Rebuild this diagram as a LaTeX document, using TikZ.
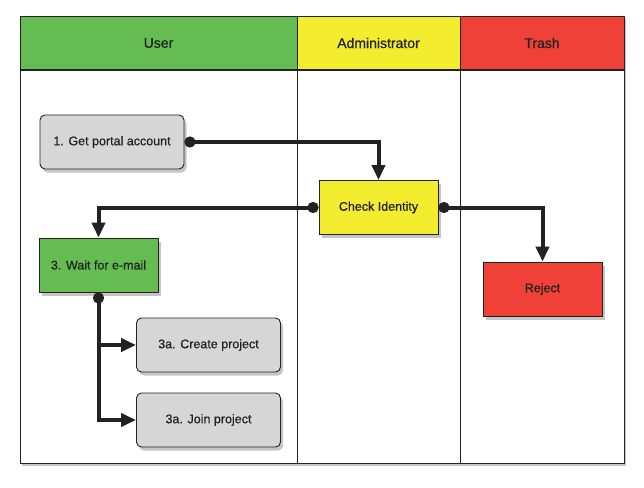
\documentclass[tikz,border=0pt]{standalone}
\usepackage{fontspec}
\setmainfont{Liberation Sans}
\newfontfamily\heavyfont[FakeBold=0.7]{Liberation Sans}
\usetikzlibrary{arrows.meta,shadows}
\definecolor{lgreen}{HTML}{64BC53}
\definecolor{lyellow}{HTML}{F3EC2F}
\definecolor{lred}{HTML}{EF4137}
\definecolor{lgray}{HTML}{D6D6D6}
\definecolor{ink}{HTML}{222222}
\tikzset{
  box/.style={draw=ink, line width=0.9pt, minimum width=119pt, minimum height=54pt, inner sep=0pt,
    font=\heavyfont\fontsize{12.5}{14}\selectfont, text=ink,
    drop shadow={shadow xshift=2.5pt, shadow yshift=-3.5pt, opacity=0.45}},
  graybox/.style={box, fill=lgray, rounded corners=5pt, minimum width=144pt},
  conn/.style={draw=ink, line width=4pt, {Circle[length=11pt]}-{Triangle[length=15pt,width=13pt]}},
  arr/.style={draw=ink, line width=4pt, -{Triangle[length=15pt,width=13pt]}},
  hdr/.style={font=\heavyfont\fontsize{14}{16}\selectfont, text=ink},
}
\begin{document}
\begin{tikzpicture}[x=1pt,y=-1pt]
\useasboundingbox (0,0) rectangle (644,487);
% frame
\fill[white, drop shadow={shadow xshift=2pt, shadow yshift=-3pt, opacity=0.45}] (20,16) rectangle (624,463);
\fill[lgreen] (20,16) rectangle (297,70);
\fill[lyellow] (297,16) rectangle (460,70);
\fill[lred] (460,16) rectangle (624,70);
\draw[ink, line width=0.8pt] (297,16) -- (297,463);
\draw[ink, line width=0.8pt] (460,16) -- (460,463);
\draw[ink, line width=2pt] (20,70) -- (624,70);
\draw[ink, line width=0.9pt] (20,16) rectangle (624,463);
\node[hdr] (hu) at (158.5,43) {User};
\node[hdr] (ha) at (378.5,43) {Administrator};
\node[hdr] (ht) at (542,43) {Trash};
% nodes
\node[graybox] (gpa) at (112,142) {1. Get portal account};
\node[box, fill=lyellow] (ci) at (378.5,207.5) {Check Identity};
\node[box, fill=lgreen] (wait) at (98.5,265) {3. Wait for e-mail};
\node[graybox] (cp) at (208.5,345) {3a. Create project};
\node[graybox] (jp) at (208.5,420) {3a. Join project};
\node[box, fill=lred] (rej) at (542.5,289) {Reject};
% connectors
\draw[conn] (gpa.east) -| (ci.north);
\draw[conn] (ci.west) -| (wait.north);
\draw[conn] (ci.east) -| (rej.north);
\coordinate (br1) at (wait.south |- cp.west);
\draw[conn] (wait.south) |- (jp.west);
\draw[arr] (br1) -- (cp.west);
\end{tikzpicture}
\end{document}
